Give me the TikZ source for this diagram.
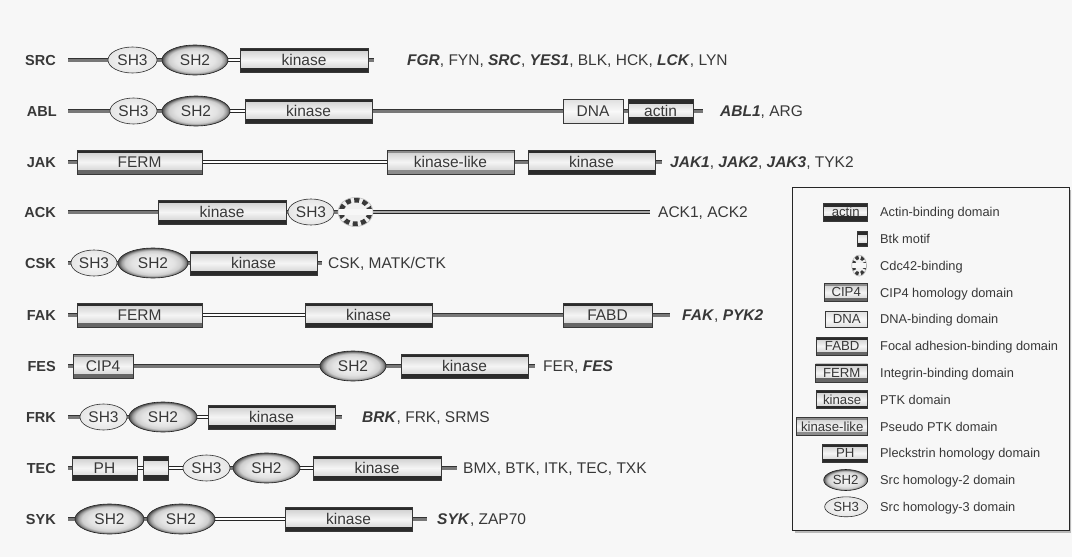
\documentclass[tikz,border=0pt]{standalone}
\usepackage{fontspec}
\setmainfont{Liberation Sans}
\usetikzlibrary{shapes.geometric}
\definecolor{ink}{gray}{0.22}
\definecolor{bgc}{gray}{0.97}
\definecolor{dband}{gray}{0.17}
\definecolor{mband}{gray}{0.40}
\definecolor{lband}{gray}{0.55}
\definecolor{edge}{gray}{0.22}
\definecolor{linkin}{gray}{0.47}
\definecolor{linkout}{gray}{0.20}
\definecolor{glinkin}{gray}{0.66}
\definecolor{sha}{gray}{0.97}
\definecolor{shb}{gray}{0.89}
\definecolor{shc}{gray}{0.81}
\definecolor{shd}{gray}{0.62}
\definecolor{she}{gray}{0.34}
\pgfdeclareradialshading{shtwo}{\pgfpoint{0bp}{0bp}}{color(0bp)=(sha); color(15bp)=(shb); color(20bp)=(shc); color(22.5bp)=(shd); color(24.6bp)=(she); color(50bp)=(she)}
\pgfdeclarelayer{bglayer}
\pgfsetlayers{bglayer,main}
\newcommand{\domfont}{\fontsize{15.5}{17}\selectfont}
\newcommand{\labfont}{\fontsize{14.5}{17}\selectfont\bfseries}
\newcommand{\famfont}{\fontsize{15.5}{17}\selectfont}
\newcommand{\legfont}{\fontsize{12.8}{15}\selectfont}
\newcommand{\legdom}{\fontsize{13.2}{15}\selectfont}
\newcommand{\bfit}[1]{\textbf{\textit{#1}}}
\tikzset{
  bands/.style n args={4}{path picture={
    \fill[#1] (path picture bounding box.north west) rectangle ([yshift=-#2]path picture bounding box.north east);
    \fill[#3] (path picture bounding box.south west) rectangle ([yshift=#4]path picture bounding box.south east);}},
  dom/.style={rectangle, inner sep=0pt, minimum height=24pt, draw=edge, line width=0.6pt, top color=gray!42, bottom color=gray!42, middle color=gray!8, text=ink, font=\domfont},
  kin/.style={dom, bands={dband}{3pt}{dband}{4pt}},
  kinl/.style={dom, bands={lband}{3pt}{lband}{4pt}},
  ferm/.style={dom, bands={dband}{2.5pt}{mband}{4.5pt}},
  fabd/.style={dom, bands={dband}{3pt}{mband}{4pt}},
  cip/.style={dom, bands={lband}{3pt}{mband}{4pt}},
  dna/.style={dom, draw=gray!45!black, top color=gray!25, bottom color=gray!25, middle color=gray!5},
  actin/.style={dom, bands={dband}{5pt}{dband}{6.5pt}},
  ph/.style={dom, bands={dband}{3pt}{dband}{5pt}},
  btk/.style={dom, bands={dband}{5pt}{dband}{5pt}},
  sh3/.style={ellipse, inner sep=0pt, minimum height=26pt, draw=gray!35!black, line width=0.6pt, inner color=gray!4, outer color=gray!20, text=ink, font=\domfont},
  sh2/.style={ellipse, inner sep=0pt, minimum height=30pt, draw=gray!25!black, line width=0.6pt, shade, shading=shtwo, text=ink, font=\domfont},
  cdc/.style={ellipse, inner sep=0pt, minimum width=35pt, minimum height=29pt, fill=gray!12, draw=gray!50, line width=0.6pt,
    path picture={
      \draw[line width=5pt, gray!45!black, dash pattern=on 5pt off 3.5pt] (path picture bounding box.center) ellipse [x radius=14.5pt, y radius=12pt];
      \fill[gray!6] ([yshift=3pt]path picture bounding box.west) rectangle ([yshift=-3pt]path picture bounding box.east);}},
  dlink/.style={draw=linkout, line width=4.8pt, postaction={draw=linkin, line width=3pt}},
  glink/.style={draw=gray!30!black, line width=4.2pt, postaction={draw=glinkin, line width=2.8pt}},
  wlink/.style={draw=gray!30!black, line width=0.6pt, double=white, double distance=2.6pt},
  lab/.style={anchor=base east, inner sep=0pt, text=ink, font=\labfont},
  fam/.style={anchor=base west, inner sep=0pt, text=ink, font=\famfont},
  leg/.style={anchor=base west, inner sep=0pt, text=ink, font=\legfont},
  lgbox/.style={dom, minimum height=18pt, font=\legdom, anchor=east},
}
\begin{document}
\begin{tikzpicture}[x=1pt,y=-1pt]
\useasboundingbox (0,0) rectangle (1072,557);
\begin{pgfonlayer}{bglayer}
\fill[bgc] (0,0) rectangle (1072,557);
\end{pgfonlayer}

% ---------- SRC ----------
\node[lab] (src-l) at (56,65.2) {SRC};
\coordinate (src-s) at (68,60);
\node[sh3, minimum width=49pt] (src-3) at (132.5,60) {SH3};
\node[sh2, minimum width=66pt] (src-2) at (195,60) {SH2};
\node[kin, minimum width=128pt] (src-k) at (304,60) {kinase};
\coordinate (src-e) at (374,60);
\node[fam] (src-f) at (407,65.5) {\bfit{FGR}, FYN, \bfit{SRC}, \bfit{YES1}, BLK, HCK, \bfit{LCK}, LYN};

% ---------- ABL ----------
\node[lab] (abl-l) at (57,116.2) {ABL};
\coordinate (abl-s) at (68,111);
\node[sh3, minimum width=47pt] (abl-3) at (133.5,111) {SH3};
\node[sh2, minimum width=68pt] (abl-2) at (196,111) {SH2};
\node[kin, minimum width=127pt] (abl-k) at (308.5,111) {kinase};
\node[dna, minimum width=60pt] (abl-d) at (593,111) {DNA};
\node[actin, minimum width=65pt] (abl-a) at (660.5,111) {actin};
\coordinate (abl-e) at (703,111);
\node[fam] (abl-f) at (720,116.5) {\bfit{ABL1}, ARG};

% ---------- JAK ----------
\node[lab] (jak-l) at (56,167.2) {JAK};
\coordinate (jak-s) at (68,162);
\node[ferm, minimum width=125pt] (jak-fe) at (139.5,162) {FERM};
\node[kinl, minimum width=127pt] (jak-kl) at (450.5,162) {kinase-like};
\node[kin, minimum width=127pt] (jak-k) at (591.5,162) {kinase};
\coordinate (jak-e) at (662,162);
\node[fam] (jak-f) at (670,167.5) {\bfit{JAK1}, \bfit{JAK2}, \bfit{JAK3}, TYK2};

% ---------- ACK ----------
\node[lab] (ack-l) at (56,217.2) {ACK};
\coordinate (ack-s) at (68,212);
\node[kin, minimum width=128pt] (ack-k) at (222,212) {kinase};
\node[sh3, minimum width=46pt] (ack-3) at (311,212) {SH3};
\node[cdc] (ack-c) at (355.5,212) {};
\coordinate (ack-e) at (650,212);
\node[fam] (ack-f) at (658,217.5) {ACK1, ACK2};

% ---------- CSK ----------
\node[lab] (csk-l) at (56,268.2) {CSK};
\coordinate (csk-s) at (68,263);
\node[sh3, minimum width=46pt] (csk-3) at (94,263) {SH3};
\node[sh2, minimum width=70pt] (csk-2) at (153,263) {SH2};
\node[kin, minimum width=127pt] (csk-k) at (253.5,263) {kinase};
\coordinate (csk-e) at (322,263);
\node[fam] (csk-f) at (328,268.5) {CSK, MATK/CTK};

% ---------- FAK ----------
\node[lab] (fak-l) at (56,320.2) {FAK};
\coordinate (fak-s) at (68,315);
\node[ferm, minimum width=125pt] (fak-fe) at (139.5,315) {FERM};
\node[kin, minimum width=127pt] (fak-k) at (368.5,315) {kinase};
\node[fabd, minimum width=89pt] (fak-fa) at (607.5,315) {FABD};
\coordinate (fak-e) at (670,315);
\node[fam] (fak-f) at (682,320.5) {\bfit{FAK}, \bfit{PYK2}};

% ---------- FES ----------
\node[lab] (fes-l) at (56,371.2) {FES};
\coordinate (fes-s) at (68,366);
\node[cip, minimum width=60pt] (fes-c) at (103,366) {CIP4};
\node[sh2, minimum width=66pt] (fes-2) at (353,366) {SH2};
\node[kin, minimum width=127pt] (fes-k) at (464.5,366) {kinase};
\coordinate (fes-e) at (535,366);
\node[fam] (fes-f) at (543,371.5) {FER, \bfit{FES}};

% ---------- FRK ----------
\node[lab] (frk-l) at (56,422.2) {FRK};
\coordinate (frk-s) at (68,417);
\node[sh3, minimum width=47pt] (frk-3) at (103.5,417) {SH3};
\node[sh2, minimum width=68pt] (frk-2) at (163,417) {SH2};
\node[kin, minimum width=127pt] (frk-k) at (271.5,417) {kinase};
\coordinate (frk-e) at (342,417);
\node[fam] (frk-f) at (362,422.5) {\bfit{BRK}, FRK, SRMS};

% ---------- TEC ----------
\node[lab] (tec-l) at (56,473.2) {TEC};
\coordinate (tec-s) at (68,468);
\node[ph, minimum width=65pt] (tec-p) at (104.5,468) {PH};
\node[btk, minimum width=25pt] (tec-b) at (155.5,468) {};
\node[sh3, minimum width=47pt] (tec-3) at (206.5,468) {SH3};
\node[sh2, minimum width=67pt] (tec-2) at (266.5,468) {SH2};
\node[kin, minimum width=128pt] (tec-k) at (377,468) {kinase};
\coordinate (tec-e) at (457,468);
\node[fam] (tec-f) at (463,473.5) {BMX, BTK, ITK, TEC, TXK};

% ---------- SYK ----------
\node[lab] (syk-l) at (56,524.2) {SYK};
\coordinate (syk-s) at (68,519);
\node[sh2, minimum width=69pt] (syk-2a) at (109.5,519) {SH2};
\node[sh2, minimum width=68pt] (syk-2b) at (181,519) {SH2};
\node[kin, minimum width=127pt] (syk-k) at (348.5,519) {kinase};
\coordinate (syk-e) at (427,519);
\node[fam] (syk-f) at (437,524.5) {\bfit{SYK}, ZAP70};

% ---------- links ----------
\begin{pgfonlayer}{bglayer}
\draw[dlink] (src-s) -- (src-3.west);
\draw[dlink] (src-3.east) -- (src-2.west);
\draw[wlink] (src-2.east) -- (src-k.west);
\draw[dlink] (src-k.east) -- (src-e);

\draw[dlink] (abl-s) -- (abl-3.west);
\draw[dlink] (abl-3.east) -- (abl-2.west);
\draw[wlink] (abl-2.east) -- (abl-k.west);
\draw[dlink] (abl-k.east) -- (abl-d.west);
\draw[dlink] (abl-d.east) -- (abl-a.west);
\draw[dlink] (abl-a.east) -- (abl-e);

\draw[dlink] (jak-s) -- (jak-fe.west);
\draw[wlink] (jak-fe.east) -- (jak-kl.west);
\draw[dlink] (jak-kl.east) -- (jak-k.west);
\draw[dlink] (jak-k.east) -- (jak-e);

\draw[dlink] (ack-s) -- (ack-k.west);
\draw[dlink] (ack-k.east) -- (ack-3.west);
\draw[dlink] (ack-3.east) -- (ack-c.west);
\draw[glink] (ack-c.east) -- (ack-e);

\draw[dlink] (csk-s) -- (csk-3.west);
\draw[dlink] (csk-3.east) -- (csk-2.west);
\draw[dlink] (csk-2.east) -- (csk-k.west);
\draw[dlink] (csk-k.east) -- (csk-e);

\draw[dlink] (fak-s) -- (fak-fe.west);
\draw[wlink] (fak-fe.east) -- (fak-k.west);
\draw[dlink] (fak-k.east) -- (fak-fa.west);
\draw[dlink] (fak-fa.east) -- (fak-e);

\draw[dlink] (fes-s) -- (fes-c.west);
\draw[dlink] (fes-c.east) -- (fes-2.west);
\draw[dlink] (fes-2.east) -- (fes-k.west);
\draw[dlink] (fes-k.east) -- (fes-e);

\draw[dlink] (frk-s) -- (frk-3.west);
\draw[dlink] (frk-3.east) -- (frk-2.west);
\draw[wlink] (frk-2.east) -- (frk-k.west);
\draw[dlink] (frk-k.east) -- (frk-e);

\draw[dlink] (tec-s) -- (tec-p.west);
\draw[wlink] (tec-p.east) -- (tec-b.west);
\draw[wlink] (tec-b.east) -- (tec-3.west);
\draw[dlink] (tec-3.east) -- (tec-2.west);
\draw[wlink] (tec-2.east) -- (tec-k.west);
\draw[dlink] (tec-k.east) -- (tec-e);

\draw[dlink] (syk-s) -- (syk-2a.west);
\draw[dlink] (syk-2a.east) -- (syk-2b.west);
\draw[wlink] (syk-2b.east) -- (syk-k.west);
\draw[dlink] (syk-k.east) -- (syk-e);
\end{pgfonlayer}

% ---------- legend ----------
\fill[gray!55] (795,190) rectangle (1071,533);
\draw[fill=bgc, draw=gray!30!black, line width=0.6pt] (792,187) rectangle (1069,530);

\node[lgbox, minimum width=44pt, bands={dband}{4pt}{dband}{5pt}] (l1) at (868,212) {actin};
\node[leg] at (880,216.6) {Actin-binding domain};
\node[lgbox, minimum width=10pt, minimum height=15pt, bands={dband}{3.5pt}{dband}{3.5pt}] (l2) at (868,238.8) {};
\node[leg] at (880,243.4) {Btk motif};
\node[cdc, minimum width=15pt, minimum height=21pt, anchor=east,
  path picture={
      \draw[line width=4pt, gray!45!black, dash pattern=on 3.5pt off 2.5pt] (path picture bounding box.center) ellipse [x radius=6pt, y radius=8.5pt];
      \fill[gray!6] ([yshift=2.5pt]path picture bounding box.west) rectangle ([yshift=-2.5pt]path picture bounding box.east);}] (l3) at (867,265.6) {};
\node[leg] at (880,270.2) {Cdc42-binding};
\node[lgbox, minimum width=43pt, bands={lband}{2.5pt}{mband}{3pt}] (l4) at (868,292.4) {CIP4};
\node[leg] at (880,297) {CIP4 homology domain};
\node[lgbox, minimum width=42pt, minimum height=16pt, draw=gray!45!black, top color=gray!25, bottom color=gray!25, middle color=gray!5] (l5) at (868,319.2) {DNA};
\node[leg] at (880,323.8) {DNA-binding domain};
\node[lgbox, minimum width=51pt, bands={dband}{2.5pt}{mband}{3pt}] (l6) at (868,346) {FABD};
\node[leg] at (880,350.6) {Focal adhesion-binding domain};
\node[lgbox, minimum width=52pt, bands={dband}{2pt}{mband}{3.5pt}] (l7) at (868,372.8) {FERM};
\node[leg] at (880,377.4) {Integrin-binding domain};
\node[lgbox, minimum width=51pt, bands={dband}{2.5pt}{dband}{3pt}] (l8) at (868,399.6) {kinase};
\node[leg] at (880,404.2) {PTK domain};
\node[lgbox, minimum width=71pt, bands={lband}{2.5pt}{lband}{3pt}] (l9) at (868,426.4) {kinase-like};
\node[leg] at (880,431) {Pseudo PTK domain};
\node[lgbox, minimum width=45pt, bands={dband}{2.5pt}{dband}{3.5pt}] (l10) at (868,453.2) {PH};
\node[leg] at (880,457.8) {Pleckstrin homology domain};
\node[sh2, minimum width=44pt, minimum height=21pt, font=\legdom, anchor=east] (l11) at (868,480) {SH2};
\node[leg] at (880,484.6) {Src homology-2 domain};
\node[sh3, minimum width=43pt, minimum height=20pt, font=\legdom, anchor=east] (l12) at (868,506.8) {SH3};
\node[leg] at (880,511.4) {Src homology-3 domain};
\end{tikzpicture}
\end{document}
